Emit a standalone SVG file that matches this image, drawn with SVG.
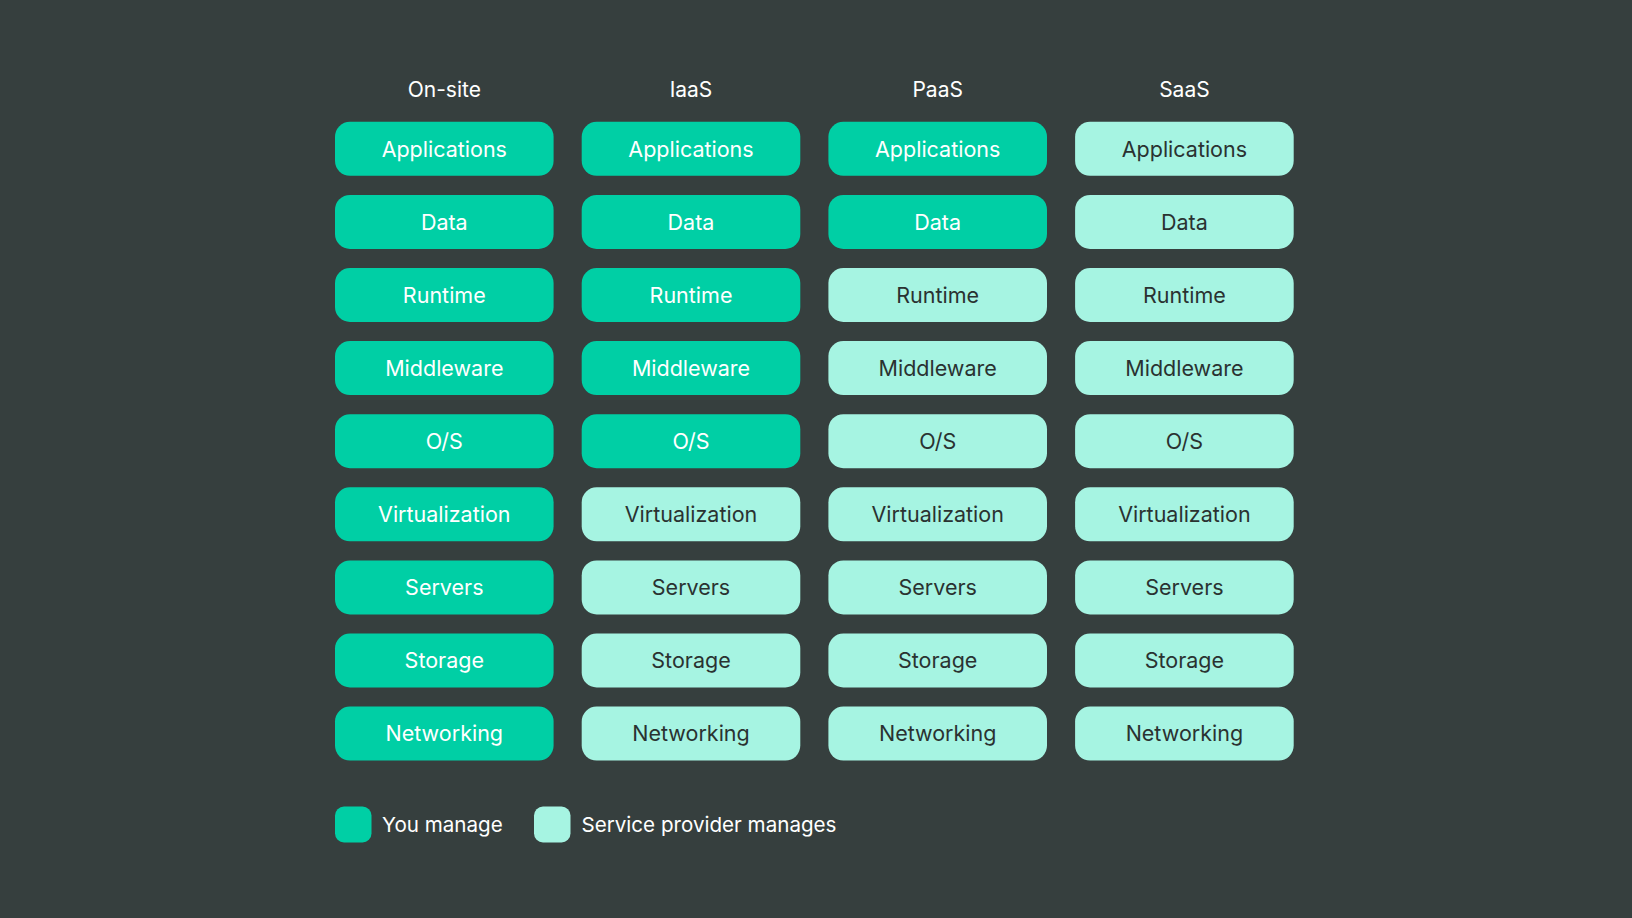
<svg xmlns="http://www.w3.org/2000/svg" width="1632" height="918" viewBox="0 0 1632 918">
<style>
.bg{fill:#363F3E}
.you{fill:#00CFA5}
.sp{fill:#A6F4E2}
.t{font-family:Inter,"Noto Sans","Liberation Sans",sans-serif;font-size:21.5px;text-anchor:middle}
.tw{fill:#FFFFFF}
.td{fill:#2A3231}
.h{font-family:Inter,"Noto Sans","Liberation Sans",sans-serif;font-size:21px;fill:#FFFFFF;text-anchor:middle}
.lg{font-family:Inter,"Noto Sans","Liberation Sans",sans-serif;font-size:20.6px;fill:#FFFFFF}
</style>
<rect class="bg" x="0" y="0" width="1632" height="918"/>
<g id="headers">
<text class="h" x="444.3" y="97">On-site</text>
<text class="h" x="691" y="97">IaaS</text>
<text class="h" x="937.7" y="97">PaaS</text>
<text class="h" x="1184.4" y="97">SaaS</text>
</g>
<g id="col-onsite">
<g id="onsite-applications"><rect class="you" x="335" y="121.8" width="218.6" height="54" rx="15"/><text class="t tw" x="444.3" y="156.5">Applications</text></g>
<g id="onsite-data"><rect class="you" x="335" y="194.9" width="218.6" height="54" rx="15"/><text class="t tw" x="444.3" y="229.6">Data</text></g>
<g id="onsite-runtime"><rect class="you" x="335" y="268" width="218.6" height="54" rx="15"/><text class="t tw" x="444.3" y="302.7">Runtime</text></g>
<g id="onsite-middleware"><rect class="you" x="335" y="341.1" width="218.6" height="54" rx="15"/><text class="t tw" x="444.3" y="375.8">Middleware</text></g>
<g id="onsite-os"><rect class="you" x="335" y="414.2" width="218.6" height="54" rx="15"/><text class="t tw" x="444.3" y="448.9">O/S</text></g>
<g id="onsite-virtualization"><rect class="you" x="335" y="487.3" width="218.6" height="54" rx="15"/><text class="t tw" x="444.3" y="522">Virtualization</text></g>
<g id="onsite-servers"><rect class="you" x="335" y="560.4" width="218.6" height="54" rx="15"/><text class="t tw" x="444.3" y="595.1">Servers</text></g>
<g id="onsite-storage"><rect class="you" x="335" y="633.5" width="218.6" height="54" rx="15"/><text class="t tw" x="444.3" y="668.2">Storage</text></g>
<g id="onsite-networking"><rect class="you" x="335" y="706.6" width="218.6" height="54" rx="15"/><text class="t tw" x="444.3" y="741.3">Networking</text></g>
</g>
<g id="col-iaas">
<g id="iaas-applications"><rect class="you" x="581.7" y="121.8" width="218.6" height="54" rx="15"/><text class="t tw" x="691" y="156.5">Applications</text></g>
<g id="iaas-data"><rect class="you" x="581.7" y="194.9" width="218.6" height="54" rx="15"/><text class="t tw" x="691" y="229.6">Data</text></g>
<g id="iaas-runtime"><rect class="you" x="581.7" y="268" width="218.6" height="54" rx="15"/><text class="t tw" x="691" y="302.7">Runtime</text></g>
<g id="iaas-middleware"><rect class="you" x="581.7" y="341.1" width="218.6" height="54" rx="15"/><text class="t tw" x="691" y="375.8">Middleware</text></g>
<g id="iaas-os"><rect class="you" x="581.7" y="414.2" width="218.6" height="54" rx="15"/><text class="t tw" x="691" y="448.9">O/S</text></g>
<g id="iaas-virtualization"><rect class="sp" x="581.7" y="487.3" width="218.6" height="54" rx="15"/><text class="t td" x="691" y="522">Virtualization</text></g>
<g id="iaas-servers"><rect class="sp" x="581.7" y="560.4" width="218.6" height="54" rx="15"/><text class="t td" x="691" y="595.1">Servers</text></g>
<g id="iaas-storage"><rect class="sp" x="581.7" y="633.5" width="218.6" height="54" rx="15"/><text class="t td" x="691" y="668.2">Storage</text></g>
<g id="iaas-networking"><rect class="sp" x="581.7" y="706.6" width="218.6" height="54" rx="15"/><text class="t td" x="691" y="741.3">Networking</text></g>
</g>
<g id="col-paas">
<g id="paas-applications"><rect class="you" x="828.4" y="121.8" width="218.6" height="54" rx="15"/><text class="t tw" x="937.7" y="156.5">Applications</text></g>
<g id="paas-data"><rect class="you" x="828.4" y="194.9" width="218.6" height="54" rx="15"/><text class="t tw" x="937.7" y="229.6">Data</text></g>
<g id="paas-runtime"><rect class="sp" x="828.4" y="268" width="218.6" height="54" rx="15"/><text class="t td" x="937.7" y="302.7">Runtime</text></g>
<g id="paas-middleware"><rect class="sp" x="828.4" y="341.1" width="218.6" height="54" rx="15"/><text class="t td" x="937.7" y="375.8">Middleware</text></g>
<g id="paas-os"><rect class="sp" x="828.4" y="414.2" width="218.6" height="54" rx="15"/><text class="t td" x="937.7" y="448.9">O/S</text></g>
<g id="paas-virtualization"><rect class="sp" x="828.4" y="487.3" width="218.6" height="54" rx="15"/><text class="t td" x="937.7" y="522">Virtualization</text></g>
<g id="paas-servers"><rect class="sp" x="828.4" y="560.4" width="218.6" height="54" rx="15"/><text class="t td" x="937.7" y="595.1">Servers</text></g>
<g id="paas-storage"><rect class="sp" x="828.4" y="633.5" width="218.6" height="54" rx="15"/><text class="t td" x="937.7" y="668.2">Storage</text></g>
<g id="paas-networking"><rect class="sp" x="828.4" y="706.6" width="218.6" height="54" rx="15"/><text class="t td" x="937.7" y="741.3">Networking</text></g>
</g>
<g id="col-saas">
<g id="saas-applications"><rect class="sp" x="1075.1" y="121.8" width="218.6" height="54" rx="15"/><text class="t td" x="1184.4" y="156.5">Applications</text></g>
<g id="saas-data"><rect class="sp" x="1075.1" y="194.9" width="218.6" height="54" rx="15"/><text class="t td" x="1184.4" y="229.6">Data</text></g>
<g id="saas-runtime"><rect class="sp" x="1075.1" y="268" width="218.6" height="54" rx="15"/><text class="t td" x="1184.4" y="302.7">Runtime</text></g>
<g id="saas-middleware"><rect class="sp" x="1075.1" y="341.1" width="218.6" height="54" rx="15"/><text class="t td" x="1184.4" y="375.8">Middleware</text></g>
<g id="saas-os"><rect class="sp" x="1075.1" y="414.2" width="218.6" height="54" rx="15"/><text class="t td" x="1184.4" y="448.9">O/S</text></g>
<g id="saas-virtualization"><rect class="sp" x="1075.1" y="487.3" width="218.6" height="54" rx="15"/><text class="t td" x="1184.4" y="522">Virtualization</text></g>
<g id="saas-servers"><rect class="sp" x="1075.1" y="560.4" width="218.6" height="54" rx="15"/><text class="t td" x="1184.4" y="595.1">Servers</text></g>
<g id="saas-storage"><rect class="sp" x="1075.1" y="633.5" width="218.6" height="54" rx="15"/><text class="t td" x="1184.4" y="668.2">Storage</text></g>
<g id="saas-networking"><rect class="sp" x="1075.1" y="706.6" width="218.6" height="54" rx="15"/><text class="t td" x="1184.4" y="741.3">Networking</text></g>
</g>
<g id="connectors"></g>
<g id="legend">
<g id="legend-you"><rect class="you" x="335" y="806.5" width="36.5" height="36" rx="9"/><text class="lg" x="382" y="831.5">You manage</text></g>
<g id="legend-provider"><rect class="sp" x="534" y="806.5" width="36.5" height="36" rx="9"/><text class="lg" x="581.5" y="831.5">Service provider manages</text></g>
</g>
</svg>
